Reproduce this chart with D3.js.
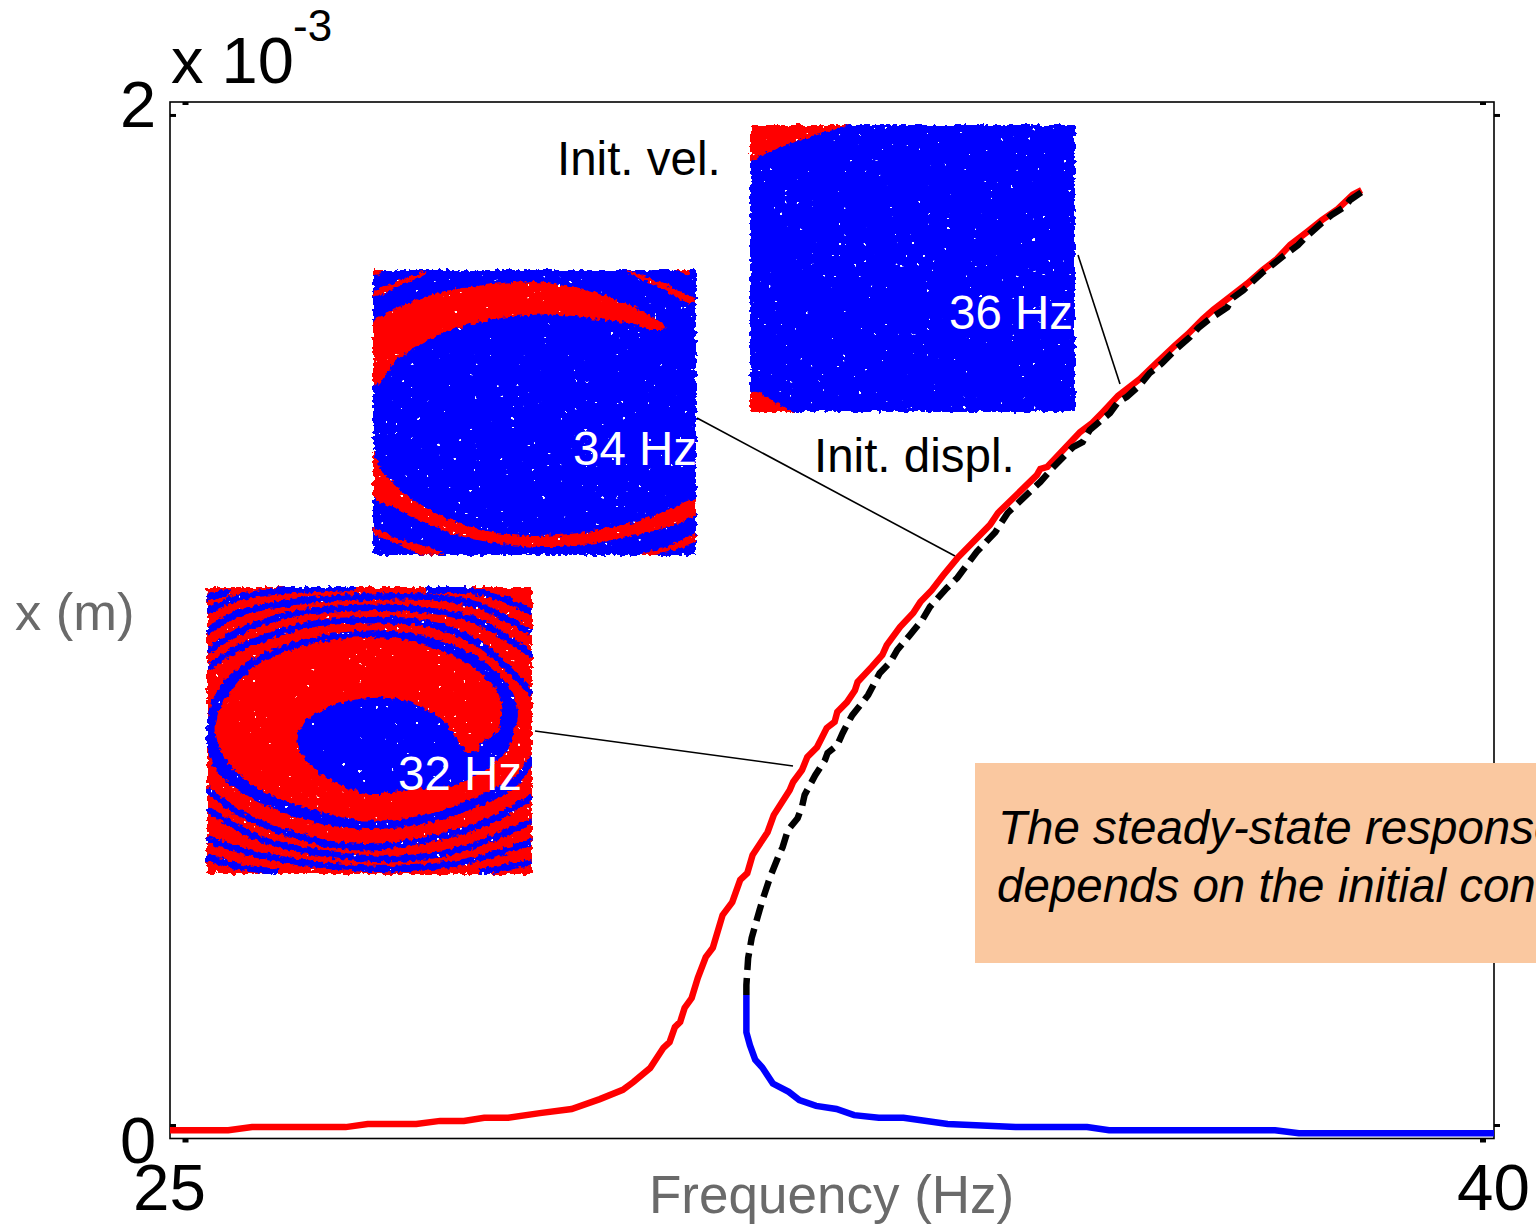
<!DOCTYPE html>
<html><head><meta charset="utf-8">
<style>html,body{margin:0;padding:0;background:#fff;overflow:hidden}svg{display:block}text{font-family:"Liberation Sans",Arial,sans-serif}</style>
<script src="https://cdn.jsdelivr.net/npm/d3@7"></script></head><body>
<script>
// ---- response curves: frequency (Hz), amplitude (x 10^-3 m)
const redFreq=[25.00,25.66,25.93,26.99,27.24,27.79,28.06,28.33,28.56,28.83,29.19,29.55,29.87,30.13,30.25,30.44,30.59,30.66,30.72,30.78,30.83,30.91,30.98,31.07,31.15,31.26,31.37,31.46,31.54,31.60,31.77,31.84,32.02,32.06,32.16,32.22,32.33,32.44,32.53,32.56,32.67,32.76,32.79,32.95,33.07,33.12,33.27,33.42,33.50,33.63,33.76,33.92,34.29,34.38,34.82,34.86,34.94,35.31,35.45,35.57,35.74,35.99,36.16,36.39,36.53,36.70,36.82,37.01,37.20,37.38,37.54,37.69,37.88,38.05,38.22,38.40,38.50];
const redAmp=[0.016,0.016,0.022,0.022,0.028,0.028,0.034,0.034,0.040,0.040,0.049,0.057,0.076,0.094,0.109,0.136,0.175,0.186,0.215,0.225,0.252,0.271,0.310,0.350,0.368,0.431,0.456,0.499,0.512,0.547,0.591,0.624,0.672,0.688,0.711,0.736,0.755,0.792,0.804,0.823,0.842,0.865,0.881,0.910,0.933,0.952,0.987,1.014,1.035,1.058,1.087,1.120,1.184,1.207,1.280,1.292,1.296,1.363,1.381,1.402,1.433,1.466,1.494,1.531,1.552,1.581,1.599,1.624,1.649,1.676,1.697,1.724,1.749,1.772,1.792,1.821,1.830];
const dashFreq=[31.53,31.53,31.55,31.59,31.68,31.72,31.80,31.89,31.94,32.00,32.11,32.16,32.19,32.31,32.42,32.45,32.56,32.62,32.68,32.73,32.82,32.91,33.04,33.16,33.24,33.38,33.52,33.61,33.80,33.92,34.14,34.35,34.49,34.86,35.00,35.23,35.34,35.42,35.65,35.74,35.84,35.99,36.10,36.24,36.41,36.56,36.65,36.76,36.98,37.04,37.16,37.37,37.44,37.60,37.78,37.86,38.05,38.16,38.31,38.37,38.50];
const dashAmp=[0.277,0.296,0.348,0.387,0.441,0.464,0.505,0.543,0.562,0.595,0.618,0.640,0.663,0.701,0.730,0.744,0.759,0.782,0.802,0.817,0.836,0.856,0.898,0.919,0.943,0.971,1.000,1.026,1.062,1.082,1.132,1.170,1.207,1.267,1.294,1.334,1.344,1.367,1.400,1.421,1.431,1.454,1.477,1.496,1.525,1.547,1.564,1.579,1.604,1.622,1.637,1.670,1.679,1.701,1.724,1.738,1.767,1.782,1.798,1.811,1.826];
const blueFreq=[31.53,31.53,31.57,31.63,31.71,31.83,32.01,32.13,32.32,32.55,32.75,33.03,33.31,33.81,34.58,35.39,35.64,37.52,37.79,40.00];
const blueAmp=[0.277,0.205,0.180,0.152,0.137,0.106,0.090,0.074,0.063,0.057,0.045,0.040,0.040,0.028,0.022,0.022,0.016,0.016,0.010,0.010];
const xDomain=[25,40], yDomain=[0,2];
const xTickLabels=["25","40"], yTickLabels=["2","0"];
const xTickMarks=[25.17,39.87], yTickMarks=[0.026,1.975];
// ---- basin maps, read in a [0,1000]-like grid of each inset
const b32Spiral=[[850,530],[930,500],[965,430],[950,350],[880,270],[780,210],[650,175],[520,165],[380,180],[250,215],[130,280],[65,350],[38,430],[38,510],[70,590],[140,650],[250,705],[380,745],[520,760],[680,745],[830,700],[950,640],[1008,570],[1008,540],[960,600],[850,660],[700,715],[520,735],[400,715],[280,680],[170,625],[100,560],[65,480],[70,420],[100,360],[160,290],[270,230],[400,195],[520,185],[640,195],[760,235],[850,290],[910,360],[915,430],[905,470],[850,510]];
const b32Core=[[305,500],[330,440],[400,395],[500,370],[600,370],[680,395],[740,435],[775,480],[810,525],[850,528],[905,472],[950,470],[935,520],[880,575],[790,625],[650,640],[530,655],[430,625],[360,580]];
const b32Stripes=[
 [[38,65],[110,48]],
 [[38,110],[120,70],[280,45],[480,38]],
 [[690,45],[850,50],[1008,110]],
 [[38,170],[130,115],[300,80],[500,65],[700,65],[850,90],[1008,175]],
 [[38,230],[130,170],[300,115],[500,98],[700,105],[850,140],[1008,240]],
 [[38,280],[120,225],[330,150],[500,135],[700,145],[850,205],[1008,355]],
 [[38,640],[130,710],[300,780],[500,815],[700,790],[860,745],[1008,665]],
 [[38,700],[200,790],[400,835],[600,850],[800,820],[1008,735]],
 [[38,790],[200,840],[400,870],[600,880],[800,860],[1008,800]],
 [[38,845],[120,870],[250,890]],
 [[850,890],[1008,860]]];
const b34Red=[
 [[40,185],[100,150],[230,100],[350,78],[510,65],[650,85],[770,120],[860,160],[920,205],[880,210],[800,190],[700,175],[600,165],[500,165],[370,185],[260,215],[170,260],[100,310],[60,370],[40,375]],
 [[40,575],[60,620],[110,680],[200,745],[300,790],[420,820],[520,828],[620,823],[750,803],[880,768],[1008,720],[1008,760],[900,808],[780,835],[650,858],[520,860],[400,848],[280,822],[190,785],[110,745],[40,710]],
 [[40,100],[100,70],[200,35],[180,52],[120,78],[45,110]],
 [[40,30],[70,30],[45,48]],
 [[800,30],[870,55],[950,90],[1008,125],[985,128],[900,82],[820,45]],
 [[950,30],[985,30],[985,42]],
 [[40,805],[100,830],[160,850],[250,880],[180,882],[110,850],[50,825]],
 [[840,885],[920,860],[1008,825],[1008,840],[940,870],[880,885]]];
const b36Red=[
 [[30,30],[330,30],[200,68],[100,105],[30,140]],
 [[30,830],[60,835],[110,865],[165,892],[30,892]]];

const W=1536,H=1224;
const x=d3.scaleLinear().domain(xDomain).range([170,1494]);
const y=d3.scaleLinear().domain(yDomain).range([1138.5,102]);
const svg=d3.select("body").append("svg").attr("width",W).attr("height",H);
const defs=svg.append("defs");
const f=defs.append("filter").attr("id","rough").attr("x","-3%").attr("y","-3%").attr("width","106%").attr("height","106%").attr("color-interpolation-filters","sRGB");
f.append("feTurbulence").attr("type","fractalNoise").attr("baseFrequency",0.22).attr("numOctaves",2).attr("seed",4).attr("result","n");
f.append("feDisplacementMap").attr("in","SourceGraphic").attr("in2","n").attr("scale",7).attr("xChannelSelector","R").attr("yChannelSelector","G").attr("result","d");
f.append("feTurbulence").attr("type","fractalNoise").attr("baseFrequency",0.19).attr("numOctaves",2).attr("seed",23).attr("result","s");
f.append("feColorMatrix").attr("in","s").attr("type","matrix").attr("values","0 0 0 0 1 0 0 0 0 1 0 0 0 0 1 40 0 0 0 -31.6").attr("result","sp");
f.append("feComposite").attr("in","sp").attr("in2","d").attr("operator","in").attr("result","spc");
const m=f.append("feMerge");m.append("feMergeNode").attr("in","d");m.append("feMergeNode").attr("in","spc");

// frame
svg.append("rect").attr("x",170).attr("y",102).attr("width",1324).attr("height",1036.5).attr("fill","#fff").attr("stroke","#000").attr("stroke-width",1.6);

// ticks
function styleTicks(g,w){g.select(".domain").remove();g.selectAll("line").attr("stroke","#000").attr("stroke-width",w);g.selectAll("text").remove();}
svg.append("g").attr("transform","translate(170,0)").call(d3.axisRight(y).tickValues(yTickMarks).tickSize(6)).call(styleTicks,3);
svg.append("g").attr("transform","translate(1494,0)").call(d3.axisRight(y).tickValues(yTickMarks).tickSize(6)).call(styleTicks,3);
svg.append("g").attr("transform","translate(0,1138.5)").call(d3.axisBottom(x).tickValues(xTickMarks).tickSize(4)).call(styleTicks,6);
svg.append("g").attr("transform","translate(0,102)").call(d3.axisBottom(x).tickValues(xTickMarks).tickSize(3)).call(styleTicks,6);

// insets
function inset(id,dx,dy,rx,ry){
  const sx=d3.scaleLinear().domain(dx).range(rx), sy=d3.scaleLinear().domain(dy).range(ry);
  defs.append("clipPath").attr("id","c"+id).append("rect").attr("x",rx[0]).attr("y",ry[0]).attr("width",rx[1]-rx[0]).attr("height",ry[1]-ry[0]);
  const outer=svg.append("g").attr("filter","url(#rough)");
  const g=outer.append("g").attr("clip-path",`url(#c${id})`);
  return {g,sx,sy,rx,ry,
    poly:d3.line().x(d=>sx(d[0])).y(d=>sy(d[1])).curve(d3.curveCatmullRomClosed.alpha(0.5)),
    open:d3.line().x(d=>sx(d[0])).y(d=>sy(d[1])).curve(d3.curveCatmullRom.alpha(0.5)),
    linear:d3.line().x(d=>sx(d[0])).y(d=>sy(d[1]))};
}
function base(i,c){i.g.append("rect").attr("x",i.rx[0]).attr("y",i.ry[0]).attr("width",i.rx[1]-i.rx[0]).attr("height",i.ry[1]-i.ry[0]).attr("fill",c);}

const i32=inset("32",[38,1008],[35,895],[207,532],[587,874]);
base(i32,"#ff0000");
i32.g.selectAll(".st").data(b32Stripes).join("path").attr("d",i32.open).attr("fill","none").attr("stroke","#0000ff").attr("stroke-width",6.5);
i32.g.append("path").attr("d",i32.poly(b32Spiral)).attr("fill","#0000ff");
i32.g.append("path").attr("d",i32.poly(b32Core)).attr("fill","#0000ff");

const i34=inset("34",[40,1008],[30,885],[373,696],[270,555]);
base(i34,"#0000ff");
i34.g.selectAll(".r").data(b34Red).join("path").attr("d",i34.poly).attr("fill","#ff0000");

const i36=inset("36",[30,1005],[30,892],[750,1075],[125,412]);
base(i36,"#0000ff");
i36.g.selectAll(".r").data(b36Red).join("path").attr("d",i36.linear).attr("fill","#ff0000");

// leader lines
const leaders=[[535,731,793,766],[697,418,955,556],[1078,255,1120,384]];
svg.selectAll(".lead").data(leaders).join("line").attr("x1",d=>d[0]).attr("y1",d=>d[1]).attr("x2",d=>d[2]).attr("y2",d=>d[3]).attr("stroke","#000").attr("stroke-width",1.6);

// curves
const line=d3.line().x(d=>x(d[0])).y(d=>y(d[1]));
svg.append("path").attr("d",line(d3.zip(blueFreq,blueAmp))).attr("fill","none").attr("stroke","#0000ff").attr("stroke-width",6.5);
svg.append("path").attr("d",line(d3.zip(redFreq,redAmp))).attr("fill","none").attr("stroke","#ff0000").attr("stroke-width",6.5);
svg.append("path").attr("d",line(d3.zip(dashFreq,dashAmp))).attr("fill","none").attr("stroke","#000").attr("stroke-width",6.5).attr("stroke-dasharray","17 8");

// note box
svg.append("rect").attr("x",975).attr("y",763).attr("width",561).attr("height",200).attr("fill","#fac8a0");
const T=(s,px,py,size,fill,extra)=>{const t=svg.append("text").attr("x",px).attr("y",py).attr("font-size",size).attr("fill",fill).text(s);if(extra)t.attr("font-style",extra);return t;};
T("The steady-state response",998,844,47.5,"#000","italic");
T("depends on the initial conditions",997,902,47.5,"#000","italic");

// labels
T(yTickLabels[0],120,127,65,"#000");
T(yTickLabels[1],120,1163,65,"#000");
T(xTickLabels[0],133,1210,65.5,"#000");
T(xTickLabels[1],1457,1210,65.5,"#000");
T("x 10",171,83,65,"#000");
T("-3",293,41,44,"#000");
T("x (m)",15,630,52.5,"#6a6a6a");
T("Frequency (Hz)",649,1213,53,"#6a6a6a");
T("Init. vel.",557,175,47.5,"#000");
T("Init. displ.",814,472,47.5,"#000");
T("32 Hz",398,790,47.5,"#fff");
T("34 Hz",573,465,47.5,"#fff");
T("36 Hz",949,329,47.5,"#fff");
</script></body></html>
